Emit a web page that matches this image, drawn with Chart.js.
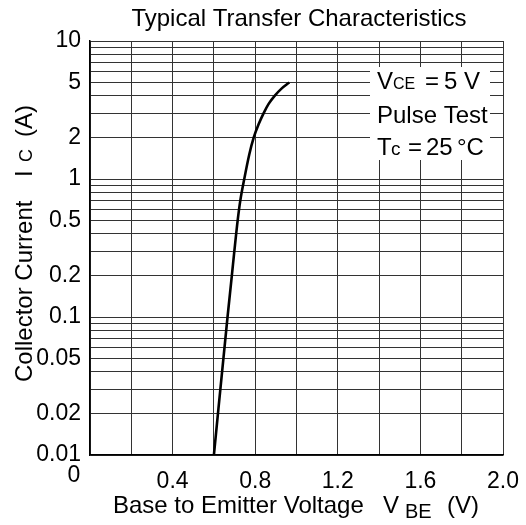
<!DOCTYPE html>
<html>
<head>
<meta charset="utf-8">
<script src="https://cdn.jsdelivr.net/npm/chart.js@4.4.1/dist/chart.umd.min.js"></script>
<style>
  html, body { margin: 0; padding: 0; background: #fff; }
  #chart { display: block; }
</style>
</head>
<body>
<canvas id="chart" width="526" height="525"></canvas>
<script>
// curve: base-emitter voltage (V) vs collector current (A)
const vbe = [0.600, 0.666, 0.687, 0.699, 0.715, 0.728, 0.747, 0.771, 0.793, 0.817, 0.841, 0.865, 0.894, 0.926, 0.965];
const ic = [0.01, 0.1, 0.2, 0.3, 0.5, 0.7, 1, 1.5, 2, 2.5, 3, 3.5, 4, 4.5, 5];

const xTicks = [0.4, 0.8, 1.2, 1.6, 2.0];
const xOriginLabel = "0";
const yTicks = [0.01, 0.02, 0.05, 0.1, 0.2, 0.5, 1, 2, 5, 10];
const yDecades = [0.01, 0.1, 1];

const FONT = '"Liberation Sans", Arial, sans-serif';
const GRID = "#333";

function yGridValues() {
  const vals = [];
  yDecades.forEach((d) => {
    for (let m = 1; m < 10; m++) vals.push(Number((m * d).toPrecision(3)));
  });
  vals.push(yTicks[yTicks.length - 1]);
  return vals;
}

const textPlugin = {
  id: "texts",
  afterDraw(chart) {
    const { ctx } = chart;
    ctx.save();
    ctx.fillStyle = "#000";
    ctx.textBaseline = "alphabetic";

    // title
    ctx.font = `24px ${FONT}`;
    ctx.textAlign = "center";
    ctx.fillText("Typical Transfer Characteristics", 299, 26);

    // origin label sits left of the axis
    ctx.font = `23px ${FONT}`;
    ctx.fillText(xOriginLabel, 74, 482);

    // x axis title
    ctx.font = `24px ${FONT}`;
    ctx.textAlign = "left";
    ctx.fillText("Base to Emitter Voltage", 113, 513);
    ctx.fillText("V", 383, 513);
    ctx.font = `20px ${FONT}`;
    ctx.fillText("BE", 405, 518);
    ctx.font = `24px ${FONT}`;
    ctx.fillText("(V)", 447, 513);

    // y axis title
    ctx.save();
    ctx.translate(32, 382);
    ctx.rotate(-Math.PI / 2);
    ctx.fillText("Collector Current", 0, 0);
    ctx.fillText("I", 205, 0);
    ctx.font = `18px ${FONT}`;
    ctx.fillText("C", 220, 0);
    ctx.font = `24px ${FONT}`;
    ctx.fillText("(A)", 245, 0);
    ctx.restore();

    // conditions box
    ctx.fillStyle = "#fff";
    ctx.fillRect(370, 67, 120, 93);
    ctx.fillStyle = "#000";
    ctx.font = `24px ${FONT}`;
    ctx.fillText("V", 377, 89);
    ctx.font = `16px ${FONT}`;
    ctx.fillText("CE", 393, 89);
    ctx.font = `24px ${FONT}`;
    ctx.fillText("=", 425, 89);
    ctx.fillText("5", 444, 89);
    ctx.fillText("V", 464, 89);
    ctx.fillText("Pulse Test", 377, 123);
    ctx.fillText("T", 377, 155);
    ctx.font = `19px ${FONT}`;
    ctx.fillText("c", 391, 155);
    ctx.font = `24px ${FONT}`;
    ctx.fillText("=", 408, 155);
    ctx.fillText("25", 426, 155);
    ctx.fillText("°C", 457, 155);

    ctx.restore();
  }
};

new Chart(document.getElementById("chart"), {
  type: "line",
  data: {
    datasets: [{
      data: vbe.map((v, i) => ({ x: v, y: ic[i] })),
      borderColor: "#000",
      borderWidth: 2.6,
      pointRadius: 0,
      cubicInterpolationMode: "monotone",
      fill: false
    }]
  },
  options: {
    responsive: false,
    animation: false,
    layout: { padding: { left: 0, right: 23, top: 41, bottom: 0 } },
    plugins: {
      legend: { display: false },
      title: { display: false },
      tooltip: { enabled: false }
    },
    scales: {
      x: {
        type: "linear",
        min: 0,
        max: 2,
        afterFit: (s) => { s.height = 70; s.paddingLeft = 0; s.paddingRight = 0; },
        ticks: {
          stepSize: 0.2,
          autoSkip: false,
          maxRotation: 0,
          padding: 13,
          color: "#000",
          font: { family: FONT, size: 23 },
          callback: (v) => xTicks.some((t) => Math.abs(t - v) < 1e-6) ? Number(v).toFixed(1) : ""
        },
        grid: { color: GRID, lineWidth: 1, drawTicks: false },
        border: { color: "#000", width: 1.5 }
      },
      y: {
        type: "logarithmic",
        min: 0.01,
        max: 10,
        afterFit: (s) => { s.width = 90; s.paddingTop = 0; s.paddingBottom = 0; },
        afterBuildTicks: (s) => { s.ticks = yGridValues().map((v) => ({ value: v })); },
        ticks: {
          autoSkip: false,
          padding: 9,
          color: "#000",
          font: { family: FONT, size: 23 },
          callback: (v) => yTicks.some((t) => Math.abs(t - v) < t * 1e-6) ? String(Number(v.toPrecision(3))) : ""
        },
        grid: { color: GRID, lineWidth: 1, drawTicks: false },
        border: { color: "#000", width: 1.5 }
      }
    }
  },
  plugins: [textPlugin]
});
</script>
</body>
</html>
